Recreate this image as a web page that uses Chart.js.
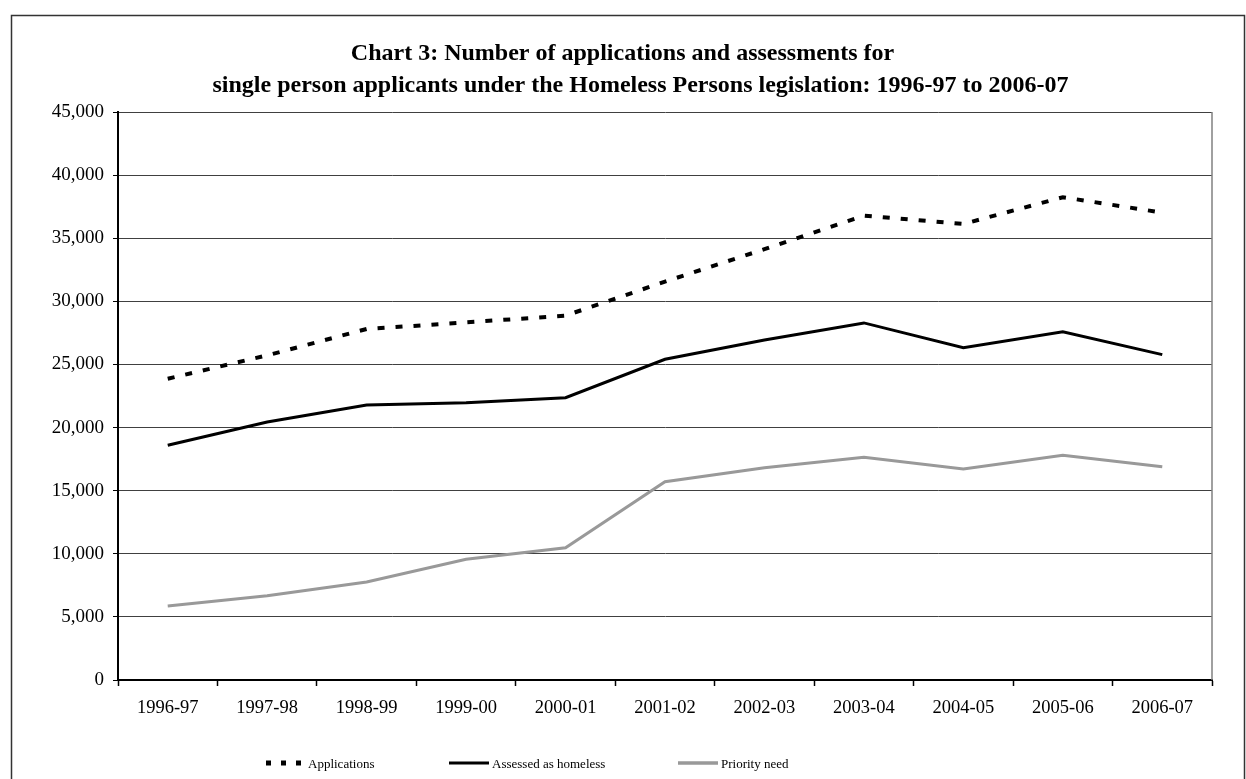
<!DOCTYPE html>
<html>
<head>
<meta charset="utf-8">
<script src="https://cdn.jsdelivr.net/npm/chart.js@4/dist/chart.umd.min.js"></script>
<style>
  html, body { margin: 0; padding: 0; background: #fff; }
  #wrap { width: 1246px; height: 779px; position: relative; }
</style>
</head>
<body>
<div id="wrap"><canvas id="chart" width="1246" height="779"></canvas></div>
<script>
"use strict";

/* ---------- data ---------- */
const years = ['1996-97', '1997-98', '1998-99', '1999-00', '2000-01', '2001-02',
               '2002-03', '2003-04', '2004-05', '2005-06', '2006-07'];
const applications = [23870, 25720, 27810, 28330, 28870, 31560, 34130, 36790, 36130, 38250, 37030];
const assessedHomeless = [18600, 20440, 21790, 21970, 22370, 25410, 26940, 28290, 26330, 27580, 25780];
const priorityNeed = [5860, 6680, 7770, 9560, 10480, 15710, 16820, 17650, 16720, 17800, 16900];
const yTicks = [0, 5000, 10000, 15000, 20000, 25000, 30000, 35000, 40000, 45000];

// leading blanks on the second line nudge it right, as in the original
const titleLines = [
  'Chart 3: Number of applications and assessments for',
  '      single person applicants under the Homeless Persons legislation: 1996-97 to 2006-07'
];

const SERIF = '"Liberation Serif", "Times New Roman", serif';

/* ---------- small plugins: frame, plot border, legend ---------- */
const framePlugin = {
  id: 'frame',
  beforeDraw(chart) {
    const ctx = chart.ctx;
    ctx.save();
    ctx.strokeStyle = '#333';
    ctx.lineWidth = 1.5;
    ctx.strokeRect(11.5, 15.5, 1233, 800);
    ctx.restore();
  },
  afterDatasetsDraw(chart) {
    // right edge of the plot area
    const a = chart.chartArea;
    const ctx = chart.ctx;
    ctx.save();
    ctx.strokeStyle = '#808080';
    ctx.lineWidth = 1.5;
    ctx.beginPath();
    ctx.moveTo(a.right, a.top);
    ctx.lineTo(a.right, a.bottom);
    ctx.stroke();
    ctx.restore();
  }
};

// legend slots: where each sample starts, sample length
const legendSlots = [
  { x: 266, w: 35, dash: [5, 10], width: 5 },
  { x: 449, w: 40, dash: [], width: 3 },
  { x: 678, w: 40, dash: [], width: 3.5 }
];

const legendPlugin = {
  id: 'bottomLegend',
  afterDraw(chart) {
    const ctx = chart.ctx;
    const y = 763;
    ctx.save();
    ctx.font = '13px ' + SERIF;
    ctx.textBaseline = 'middle';
    ctx.fillStyle = '#000';
    chart.data.datasets.forEach((ds, i) => {
      const s = legendSlots[i];
      ctx.strokeStyle = ds.borderColor;
      ctx.lineWidth = s.width;
      ctx.setLineDash(s.dash);
      ctx.beginPath();
      ctx.moveTo(s.x, y);
      ctx.lineTo(s.x + s.w, y);
      ctx.stroke();
      ctx.setLineDash([]);
      ctx.fillText(ds.label, s.x + s.w + (i === 0 ? 7 : 3), y + 2);
    });
    ctx.restore();
  }
};

/* ---------- chart ---------- */
new Chart(document.getElementById('chart').getContext('2d'), {
  type: 'line',
  data: {
    labels: years,
    datasets: [
      {
        label: 'Applications',
        data: applications,
        borderColor: '#000',
        borderWidth: 4,
        borderDash: [7, 11],
        pointRadius: 0,
        tension: 0
      },
      {
        label: 'Assessed as homeless',
        data: assessedHomeless,
        borderColor: '#000',
        borderWidth: 3,
        pointRadius: 0,
        tension: 0
      },
      {
        label: 'Priority need',
        data: priorityNeed,
        borderColor: '#999999',
        borderWidth: 3,
        pointRadius: 0,
        tension: 0
      }
    ]
  },
  options: {
    responsive: false,
    animation: false,
    layout: { padding: { left: 33, right: 34, top: 0, bottom: 0 } },
    plugins: {
      legend: { display: false },
      tooltip: { enabled: false },
      title: {
        display: true,
        text: titleLines,
        color: '#000',
        font: { family: SERIF, size: 24, weight: 'bold', lineHeight: '32px' },
        padding: { top: 38, bottom: 10 }
      }
    },
    scales: {
      x: {
        offset: true,
        grid: {
          offset: true,
          drawOnChartArea: false,
          drawTicks: true,
          tickLength: 6,
          tickColor: '#000',
          tickWidth: 1.5
        },
        border: { color: '#000', width: 2 },
        ticks: {
          color: '#000',
          font: { family: SERIF, size: 18.5 },
          padding: 11,
          maxRotation: 0,
          autoSkip: false
        },
        afterFit(scale) { scale.height = 99; }
      },
      y: {
        min: 0,
        max: 45000,
        afterBuildTicks(scale) { scale.ticks = yTicks.map(v => ({ value: v })); },
        grid: {
          color: '#404040',
          lineWidth: 1,
          drawTicks: true,
          tickLength: 5,
          tickColor: '#000'
        },
        border: { color: '#000', width: 2 },
        ticks: {
          color: '#000',
          font: { family: SERIF, size: 19 },
          padding: 9,
          callback: v => v.toLocaleString('en-US')
        },
        afterFit(scale) { scale.width = 85; }
      }
    }
  },
  plugins: [framePlugin, legendPlugin]
});
</script>
</body>
</html>
